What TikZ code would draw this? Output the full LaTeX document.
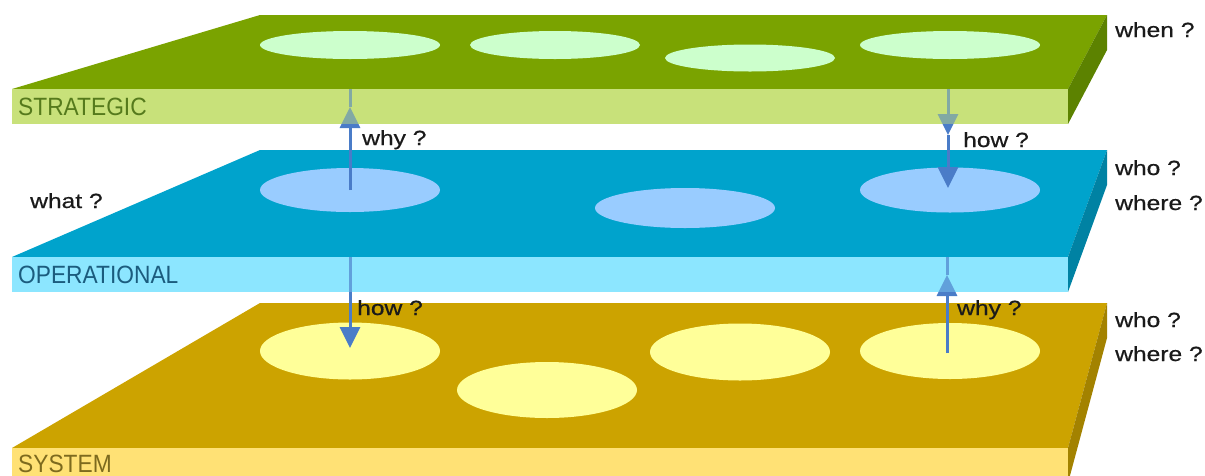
\documentclass[tikz,border=0pt]{standalone}
\usepackage{fontspec}
\setmainfont{Liberation Sans}
\newfontfamily\qfont[FakeStretch=1.2,FakeBold=0.6]{Liberation Sans}
\newfontfamily\lfont[FakeStretch=0.91]{Liberation Sans}
\usetikzlibrary{shapes.geometric,arrows.meta}
\definecolor{stTop}{HTML}{7AA300}
\definecolor{stFront}{HTML}{C8E17A}
\definecolor{stSide}{HTML}{5C8200}
\definecolor{stEll}{HTML}{CCFFCC}
\definecolor{stText}{HTML}{557A1C}
\definecolor{opTop}{HTML}{00A3CC}
\definecolor{opFront}{HTML}{8CE6FF}
\definecolor{opSide}{HTML}{0082A3}
\definecolor{opEll}{HTML}{99CCFF}
\definecolor{opText}{HTML}{1B5C7E}
\definecolor{syTop}{HTML}{CCA300}
\definecolor{syFront}{HTML}{FFE175}
\definecolor{sySide}{HTML}{A38200}
\definecolor{syEll}{HTML}{FFFF99}
\definecolor{syText}{HTML}{7D6A1E}
\definecolor{arrBlue}{HTML}{4A7CC8}
\definecolor{arrTint}{HTML}{6FA05A}
\definecolor{qText}{HTML}{1A1A1A}
\tikzset{
  blob/.style={ellipse, inner sep=0pt, draw=none, minimum width=180pt},
  qlabel/.style={anchor=base west, inner sep=0pt, text=qText, font=\qfont\fontsize{20.5}{24}\selectfont},
  slablabel/.style={anchor=base west, inner sep=0pt, font=\lfont\fontsize{25}{28}\selectfont},
  arr/.style={draw=arrBlue, line width=3pt, -{Triangle[length=21pt,width=20pt]}},
  arrline/.style={draw=arrBlue, line width=3pt},
}
\begin{document}
\begin{tikzpicture}[x=1pt,y=-1pt]
\useasboundingbox (0,0) rectangle (1205,475);
% ---------- SYSTEM slab ----------
\fill[syTop] (260,303) -- (1107,303) -- (1068,448) -- (12,448) -- cycle;
\fill[syFront] (12,448) rectangle (1068,483);
\fill[sySide] (1068,448) -- (1107,303) -- (1107,338) -- (1068,483) -- cycle;
\node[blob, fill=syEll, minimum height=57pt] (sy1) at (350,351) {};
\node[blob, fill=syEll, minimum height=56pt] (sy2) at (547,390) {};
\node[blob, fill=syEll, minimum height=57pt] (sy3) at (740,352) {};
\node[blob, fill=syEll, minimum height=56pt] (sy4) at (950,351) {};
% ---------- OPERATIONAL slab ----------
\fill[opTop] (260,150) -- (1107,150) -- (1068,257) -- (12,257) -- cycle;
\fill[opFront] (12,257) rectangle (1068,292);
\fill[opSide] (1068,257) -- (1107,150) -- (1107,185) -- (1068,292) -- cycle;
\node[blob, fill=opEll, minimum height=44pt] (op1) at (350,190) {};
\node[blob, fill=opEll, minimum height=40pt] (op2) at (685,208) {};
\node[blob, fill=opEll, minimum height=45pt] (op3) at (950,190) {};
% ---------- STRATEGIC slab ----------
\fill[stTop] (260,15) -- (1107,15) -- (1068,89) -- (12,89) -- cycle;
\fill[stFront] (12,89) rectangle (1068,124);
\fill[stSide] (1068,89) -- (1107,15) -- (1107,50) -- (1068,124) -- cycle;
\node[blob, fill=stEll, minimum height=28pt] (st1) at (350,45) {};
\node[blob, fill=stEll, minimum width=170pt, minimum height=28pt] (st2) at (555,45) {};
\node[blob, fill=stEll, minimum width=170pt, minimum height=27pt] (st3) at (750,58) {};
\node[blob, fill=stEll, minimum height=28pt] (st4) at (950,45) {};
% ---------- connector anchor points ----------
\coordinate (sA) at (350,89);
\coordinate (tA) at (350,107);
\coordinate (sB) at (948,89);
\coordinate (mB) at (948,135);
\coordinate (eB) at (948,188);
\coordinate (oC) at (350,257);
\coordinate (eC) at (350,348);
\coordinate (sD) at (947,353);
\coordinate (tD) at (947,275);
\coordinate (oD) at (947,257);
% ---------- arrows ----------
\draw[arr] (op1.center) -- (tA);
\draw[arrline] (tA) -- (sA);
\draw[arr] (sB) -- (mB);
\draw[arr] (mB) -- (eB);
\draw[arr] (oC) -- (eC);
\draw[arr] (sD) -- (tD);
\draw[arrline] (tD) -- (oD);
% tint arrows passing through the front faces
\fill[stFront, fill opacity=0.45] (12,89) rectangle (1068,124);
\fill[opFront, fill opacity=0.35] (12,257) rectangle (1068,292);
% ---------- slab labels ----------
\node[slablabel, text=stText] (lst) at (18,115) {STRATEGIC};
\node[slablabel, text=opText] (lop) at (18,283) {OPERATIONAL};
\node[slablabel, text=syText] (lsy) at (18,472) {SYSTEM};
% ---------- questions ----------
\node[qlabel] (qwhen) at (1115,37) {when ?};
\node[qlabel] (qwhy1) at (362,145) {why ?};
\node[qlabel] (qhow1) at (963,147) {how ?};
\node[qlabel] (qwhat) at (30,208) {what ?};
\node[qlabel] (qwho1) at (1115,175) {who ?};
\node[qlabel] (qwhere1) at (1115,210) {where ?};
\node[qlabel] (qhow2) at (357,315) {how ?};
\node[qlabel] (qwhy2) at (957,315) {why ?};
\node[qlabel] (qwho2) at (1115,327) {who ?};
\node[qlabel] (qwhere2) at (1115,361) {where ?};
\end{tikzpicture}
\end{document}
